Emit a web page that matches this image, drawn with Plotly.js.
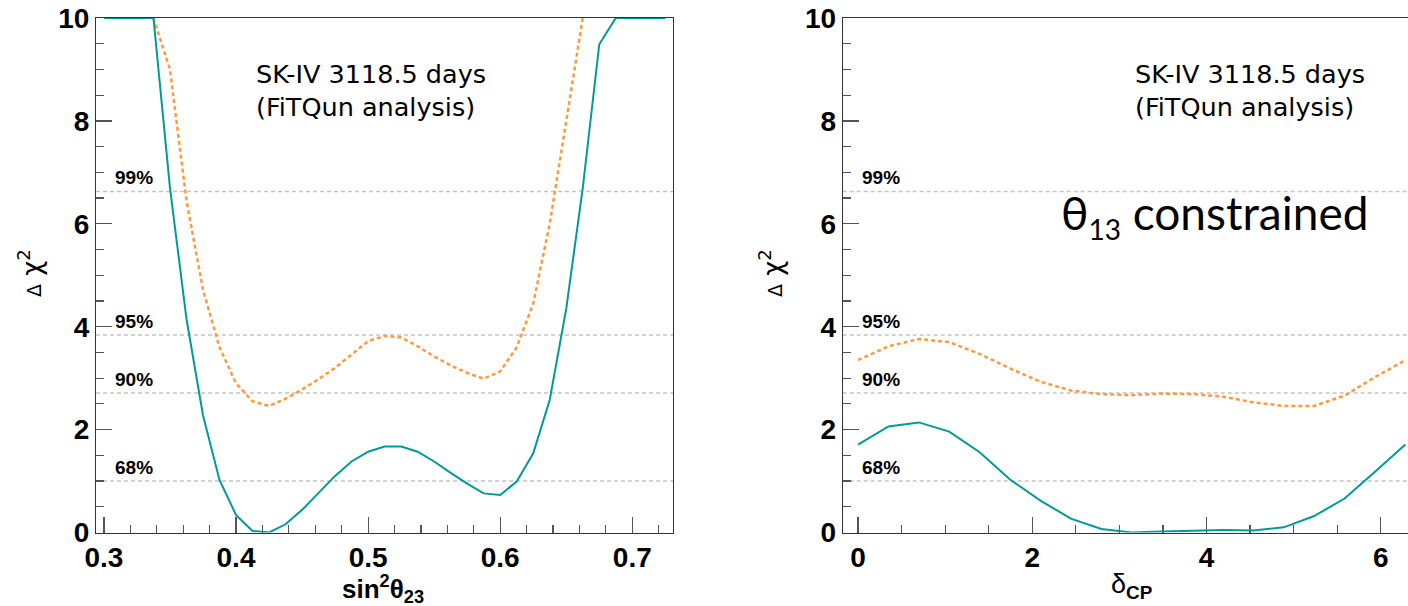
<!DOCTYPE html>
<html>
<head>
<meta charset="utf-8">
<script src="https://cdn.plot.ly/plotly-3.0.1.min.js"></script>
<style>html,body{margin:0;padding:0;background:#fff;}#chart{width:1408px;height:606px;}</style>
</head>
<body>
<div id="chart"></div>
<script>
// ---- data ----
const sin2Theta23 = [0.3000,0.3125,0.3250,0.3375,0.3500,0.3625,0.3750,0.3875,0.4000,0.4125,0.4250,0.4375,0.4500,0.4625,0.4750,0.4875,0.5000,0.5125,0.5250,0.5375,0.5500,0.5625,0.5750,0.5875,0.6000,0.6125,0.6250,0.6375,0.6500,0.6625,0.6750,0.6875,0.7000,0.7125,0.7250];
const chi2Theta23Constrained = [10,10,10,10,6.70,4.15,2.28,1.02,0.34,0.03,0.00,0.16,0.44,0.76,1.10,1.38,1.57,1.67,1.67,1.57,1.38,1.16,0.95,0.76,0.73,0.99,1.54,2.58,4.35,6.70,9.49,10,10,10,10];
const sin2Theta23Free = [0.3375,0.3500,0.3625,0.3750,0.3875,0.4000,0.4125,0.4250,0.4375,0.4500,0.4625,0.4750,0.4875,0.5000,0.5125,0.5250,0.5375,0.5500,0.5625,0.5750,0.5875,0.6000,0.6125,0.6250,0.6375,0.6500,0.6625];
const chi2Theta23Free = [10,9.0,6.45,4.72,3.60,2.90,2.55,2.46,2.60,2.78,2.98,3.20,3.46,3.72,3.82,3.79,3.62,3.42,3.25,3.10,2.99,3.13,3.60,4.45,6.0,8.0,10];

const deltaCP = [0,0.349,0.698,1.047,1.396,1.745,2.094,2.443,2.793,3.142,3.491,3.840,4.189,4.538,4.887,5.236,5.585,5.934,6.283];
const chi2DeltaConstrained = [1.71,2.06,2.14,1.96,1.56,1.03,0.62,0.27,0.07,0.00,0.02,0.04,0.05,0.04,0.10,0.32,0.66,1.18,1.71];
const chi2DeltaFree = [3.35,3.62,3.76,3.70,3.47,3.19,2.93,2.76,2.69,2.67,2.70,2.69,2.64,2.53,2.46,2.46,2.66,3.02,3.35];

const clLabels = ['68%','90%','95%','99%'];
const clLevels = [1.0, 2.71, 3.84, 6.63];

const annotText = 'SK-IV 3118.5 days<br>(FiTQun analysis)';
const constraintText = 'θ<sub><span style="font-size:28px">13</span></sub> constrained';
const xTitleLeft = '<b>sin<sup>2</sup>θ<sub>23</sub></b>';
const xTitleRight = 'δ<sub><b>CP</b></sub>';
const yTitle = '<span style="font-size:19px">Δ</span> χ<sup>2</sup>';

// ---- styles ----
const TEAL = '#009a98';
const ORANGE = '#ff9a3c';
const W = 1408, H = 606;
const px = v => v / W;
const py = v => 1 - v / H;

const traces = [
  {x: sin2Theta23Free, y: chi2Theta23Free, xaxis:'x', yaxis:'y', mode:'lines',
   line:{color:ORANGE, width:2.5, dash:'4px,3px'}, hoverinfo:'skip'},
  {x: sin2Theta23, y: chi2Theta23Constrained, xaxis:'x', yaxis:'y', mode:'lines',
   line:{color:TEAL, width:2}, hoverinfo:'skip'},
  {x: deltaCP, y: chi2DeltaFree, xaxis:'x2', yaxis:'y2', mode:'lines',
   line:{color:ORANGE, width:2.5, dash:'4px,3px'}, hoverinfo:'skip'},
  {x: deltaCP, y: chi2DeltaConstrained, xaxis:'x2', yaxis:'y2', mode:'lines',
   line:{color:TEAL, width:2}, hoverinfo:'skip'}
];

const tickFont = {family:'Liberation Sans, Arial, sans-serif', size:28, color:'#000', weight:'bold'};
function axisBase(extra){
  return Object.assign({
    showgrid:false, zeroline:false, showline:true, linecolor:'#333', linewidth:1,
    ticks:'inside', ticklen:16, tickwidth:1.2, tickcolor:'#555',
    tickfont:tickFont, layer:'below traces', fixedrange:true
  }, extra);
}

const shapes = [];
const annotations = [];
[['x','y'],['x2','y2']].forEach(([xa,ya]) => {
  clLevels.forEach((lv,i) => {
    shapes.push({type:'line', xref:xa+' domain', yref:ya, x0:0, x1:1, y0:lv, y1:lv,
      line:{color:'#c4c4c4', width:1.5, dash:'4px,3px'}, layer:'below'});
    annotations.push({xref:xa+' domain', yref:ya, x:0.03, y:lv, xanchor:'left', yanchor:'bottom',
      text:'<b>'+clLabels[i]+'</b>', showarrow:false, yshift:1,
      font:{family:'Liberation Sans, Arial, sans-serif', size:19, color:'#000'}});
  });
});

const textFont = {family:'DejaVu Sans, Verdana, sans-serif', size:25.5, color:'#000'};
annotations.push(
  {xref:'paper', yref:'paper', x:px(254), y:py(90), xanchor:'left', yanchor:'middle', align:'left',
   text:annotText, showarrow:false, font:textFont},
  {xref:'paper', yref:'paper', x:px(1133), y:py(90), xanchor:'left', yanchor:'middle', align:'left',
   text:annotText, showarrow:false, font:textFont},
  {xref:'paper', yref:'paper', x:px(1214), y:py(215), xanchor:'center', yanchor:'middle',
   text:constraintText, showarrow:false, font:{family:'Lato, Open Sans, sans-serif', size:46, color:'#000'}},
  {xref:'paper', yref:'paper', x:px(383), y:py(589), xanchor:'center', yanchor:'middle',
   text:xTitleLeft, showarrow:false, font:{family:'Liberation Sans, Arial, sans-serif', size:26, color:'#000'}},
  {xref:'paper', yref:'paper', x:px(1131), y:py(586), xanchor:'center', yanchor:'middle',
   text:xTitleRight, showarrow:false, font:{family:'Liberation Sans, Arial, sans-serif', size:27, color:'#000'}},
  {xref:'paper', yref:'paper', x:px(30), y:py(273), xanchor:'center', yanchor:'middle', textangle:-90,
   text:yTitle, showarrow:false, font:{family:'DejaVu Sans, sans-serif', size:26, color:'#000'}},
  {xref:'paper', yref:'paper', x:px(771), y:py(273), xanchor:'center', yanchor:'middle', textangle:-90,
   text:yTitle, showarrow:false, font:{family:'DejaVu Sans, sans-serif', size:26, color:'#000'}}
);

const yDomain = [py(532.5), py(18)];
const layout = {
  width:W, height:H, margin:{l:0,r:0,t:0,b:0,pad:0},
  paper_bgcolor:'#fff', plot_bgcolor:'#fff', showlegend:false,
  xaxis: axisBase({domain:[px(96), px(673)], range:[0.294, 0.7308], tick0:0.3, dtick:0.1, anchor:'y', mirror:true,
    minor:{tick0:0.3, dtick:0.02, ticks:'inside', ticklen:8, tickcolor:'#555', tickwidth:1.2, showgrid:false}}),
  yaxis: axisBase({domain:yDomain, range:[0,10], tick0:0, dtick:2, anchor:'x', mirror:true,
    minor:{tick0:0, dtick:0.5, ticks:'inside', ticklen:8, tickcolor:'#555', tickwidth:1.2, showgrid:false}}),
  xaxis2: axisBase({domain:[px(842.7), 1], range:[-0.176, 6.313], tick0:0, dtick:2, anchor:'y2', mirror:true,
    minor:{tick0:0, dtick:0.5, ticks:'inside', ticklen:8, tickcolor:'#555', tickwidth:1.2, showgrid:false}}),
  yaxis2: axisBase({domain:yDomain, range:[0,10], tick0:0, dtick:2, anchor:'x2', mirror:false,
    minor:{tick0:0, dtick:0.5, ticks:'inside', ticklen:8, tickcolor:'#555', tickwidth:1.2, showgrid:false}}),
  shapes: shapes,
  annotations: annotations
};

Plotly.newPlot('chart', traces, layout, {displayModeBar:false, staticPlot:true});
</script>
</body>
</html>
